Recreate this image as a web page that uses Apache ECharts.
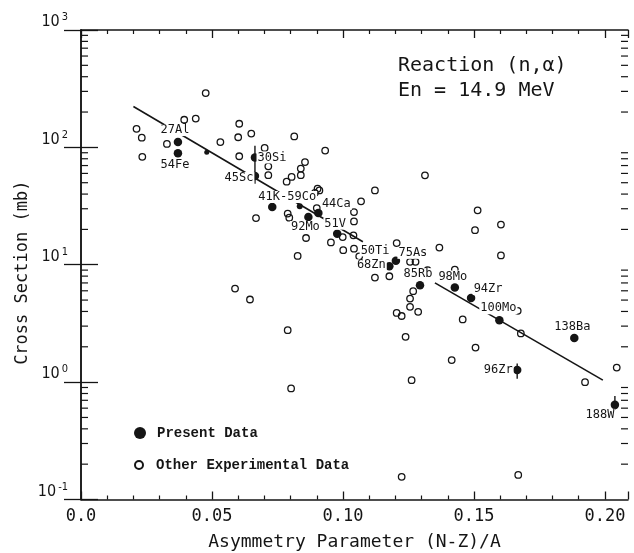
<!DOCTYPE html>
<html>
<head>
    <meta charset="utf-8">
    <script src="https://cdn.jsdelivr.net/npm/echarts@6/dist/echarts.min.js"></script>
</head>
<body style="margin:0;background:#fff">
    <div id="main" style="width: 634px;height:553px;"></div>
    <script type="text/javascript">
        // present data (filled circles)
        var presentNames = ['27Al', '54Fe', '', '30Si', '45Sc', '41K-59Co', '59Co', '92Mo', '44Ca', '51V', '50Ti',
            '68Zn', '75As', '85Rb', '98Mo', '94Zr', '100Mo', '138Ba', '96Zr', '188W'];
        var presentX = [0.037, 0.037, 0.048, 0.0664, 0.0664, 0.073, 0.0835, 0.0868, 0.0906, 0.0978, 0.1073,
            0.1177, 0.1202, 0.1294, 0.1427, 0.1489, 0.1597, 0.1883, 0.1665, 0.2038];
        var presentY = [111, 89, 91, 82, 57, 31, 31.5, 25.5, 27.6, 18.4, 15.8,
            9.7, 10.8, 6.7, 6.4, 5.2, 3.37, 2.38, 1.27, 0.64];

        // other experimental data (open circles)
        var otherX = [0.0476, 0.0212, 0.0232, 0.0234, 0.0394, 0.0438, 0.0328, 0.0532, 0.0604, 0.0600,
            0.0650, 0.0604, 0.0814, 0.0932, 0.0701, 0.0715, 0.0715, 0.0855, 0.0839, 0.0839,
            0.0785, 0.0804, 0.0893, 0.0910, 0.0903, 0.0668, 0.0789, 0.0795, 0.0859, 0.0827,
            0.0588, 0.0645, 0.0789, 0.0900, 0.0954, 0.0999, 0.1001, 0.1042, 0.1042, 0.1042,
            0.1062, 0.1040, 0.1122, 0.1069, 0.1205, 0.1368, 0.1256, 0.1277, 0.1122, 0.1177,
            0.1323, 0.1427, 0.1514, 0.1504, 0.1603, 0.1603, 0.1268, 0.1256, 0.1256, 0.1205,
            0.1224, 0.1287, 0.1457, 0.1667, 0.1239, 0.1506, 0.1415, 0.1262, 0.1679, 0.1924,
            0.2045, 0.1224, 0.1669, 0.0802, 0.1313];
        var otherY = [290, 144, 121, 83, 172, 176, 107, 111, 159, 122,
            131, 84, 124, 94, 99, 69, 58, 75, 66, 58,
            51, 56, 41, 43, 44.5, 25, 27.3, 25.2, 16.9, 11.9,
            6.27, 5.06, 2.77, 30.4, 15.5, 17.2, 13.3, 28.1, 23.4, 13.7,
            11.8, 17.8, 43, 34.7, 15.3, 14.0, 10.6, 10.6, 7.78, 7.98,
            9.0, 9.1, 29.1, 19.7, 22.0, 12.0, 5.95, 5.15, 4.38, 3.89,
            3.66, 3.97, 3.42, 4.05, 2.43, 1.97, 1.54, 1.04, 2.6, 1.0,
            1.33, 0.156, 0.162, 0.884, 57.8];

        // error bars
        var errX = [0.0664, 0.0664, 0.1665, 0.2038];
        var errLo = [57, 49, 1.07, 0.58];
        var errHi = [103, 57, 1.44, 0.76];

        // fitted lines
        var fitLine1 = [[0.02, 223], [0.1076, 15.7]];
        var fitLine2 = [[0.1351, 7.0], [0.1992, 1.04]];

        // axis ticks
        var xMin = 0, xMax = 0.2088;
        var yMinorTicks = [0.2, 0.3, 0.4, 0.5, 0.6, 0.7, 0.8, 0.9,
            2, 3, 4, 5, 6, 7, 8, 9,
            20, 30, 40, 50, 60, 70, 80, 90,
            200, 300, 400, 500, 600, 700, 800, 900];
        var yTickLabels = {'-1': '-1', '0': '0', '1': '1', '2': '2', '3': '3'};

        // label offsets from the point centre (px)
        var labelOffset = {
            '27Al': [-3, -12], '54Fe': [-3, 12], '30Si': [17, 0], '45Sc': [-16, 2],
            '41K-59Co': [15, -10], '92Mo': [-3, 10], '44Ca': [18, -9], '51V': [-2, -10],
            '50Ti': [13, 9], '68Zn': [-18, -1], '75As': [17, -8], '85Rb': [-2, -11],
            '98Mo': [-2, -11], '94Zr': [17, -9], '100Mo': [-1, -12], '138Ba': [-2, -11],
            '96Zr': [-19, 0], '188W': [-15, 10]
        };

        var ink = '#151515';
        var mono = 'DejaVu Sans Mono';
        var narrow = '"Liberation Sans Narrow", "DejaVu Sans Condensed", "DejaVu Sans Mono"';

        var presentData = presentX.map(function (x, i) {
            var name = presentNames[i];
            var item = {value: [x, presentY[i]], name: name};
            if (name === '') item.symbolSize = 5;
            if (name === '59Co') item.symbolSize = 6;
            if (name === '50Ti') item.symbolSize = 0;
            if (labelOffset[name]) {
                item.label = {show: true, offset: labelOffset[name]};
            }
            return item;
        });
        var otherData = otherX.map(function (x, i) { return [x, otherY[i]]; });
        var errData = errX.map(function (x, i) { return [x, errLo[i], errHi[i]]; });
        var minorData = yMinorTicks.map(function (v) { return [xMin, v]; });

        function xLabel(v) {
            if (v === 0) return '0.0';
            var k = v / 0.05;
            return Math.abs(k - Math.round(k)) < 1e-6 ? v.toFixed(2) : '';
        }

        var xBase = {
            type: 'value', min: xMin, max: xMax, interval: 0.05,
            axisLine: {lineStyle: {color: ink, width: 1.5}},
            axisTick: {inside: true, length: 8, lineStyle: {color: ink, width: 1.3}},
            minorTick: {show: true, splitNumber: 5, length: 4, lineStyle: {color: ink, width: 1.2}},
            splitLine: {show: false}
        };
        var yBase = {
            type: 'log', logBase: 10, min: 0.1, max: 1000,
            axisLine: {lineStyle: {color: ink, width: 1.5}},
            axisTick: {inside: true, length: 17, lineStyle: {color: ink, width: 1.3}},
            minorTick: {show: false},
            splitLine: {show: false}
        };

        var option = {
            animation: false,
            backgroundColor: '#fff',
            grid: {left: 81, top: 30, width: 547, height: 469.5, outerBoundsMode: 'none', containLabel: false},
            title: {
                text: 'Reaction (n,α)\nEn = 14.9 MeV',
                left: 398, top: 53, padding: 0,
                textStyle: {fontFamily: mono, fontSize: 20, fontWeight: 'normal', color: ink, lineHeight: 25}
            },
            legend: [
                {
                    data: [{name: 'Present Data', icon: 'circle'}],
                    left: 134, top: 426, padding: 0,
                    itemWidth: 24, itemHeight: 12,
                    textStyle: {fontFamily: 'Liberation Mono', fontWeight: 'bold', fontSize: 14, color: ink}
                },
                {
                    data: [{name: 'Other Experimental Data', icon: 'circle'}],
                    left: 134, top: 458, padding: 0,
                    itemWidth: 24, itemHeight: 8,
                    textStyle: {fontFamily: 'Liberation Mono', fontWeight: 'bold', fontSize: 14, color: ink}
                }
            ],
            xAxis: [
                Object.assign({}, xBase, {
                    position: 'bottom',
                    name: 'Asymmetry Parameter (N-Z)/A',
                    nameLocation: 'middle', nameGap: 34, nameMoveOverlap: false,
                    nameTextStyle: {fontFamily: mono, fontSize: 18, color: ink},
                    axisLabel: {formatter: xLabel, margin: 9, fontFamily: mono, fontSize: 17, color: ink}
                }),
                Object.assign({}, xBase, {position: 'top', axisLabel: {show: false}})
            ],
            yAxis: [
                Object.assign({}, yBase, {
                    position: 'left',
                    name: 'Cross Section (mb)',
                    nameLocation: 'middle', nameGap: 50, nameMoveOverlap: false,
                    nameTextStyle: {fontFamily: mono, fontSize: 17, color: ink, padding: [0, 16, 0, 0]},
                    axisLabel: {
                        margin: 13,
                        verticalAlign: 'bottom',
                        formatter: function (v) {
                            var e = Math.round(Math.log10(v));
                            return '{b|10}{s|' + yTickLabels[String(e)] + '}';
                        },
                        rich: {
                            b: {fontFamily: narrow, fontSize: 16, color: ink, lineHeight: 16},
                            s: {fontFamily: narrow, fontSize: 11, color: ink, lineHeight: 11, padding: [0, 0, 9, 2]}
                        }
                    }
                }),
                Object.assign({}, yBase, {position: 'right', axisLabel: {show: false}})
            ],
            series: [
                {
                    name: 'fit1', type: 'line', data: fitLine1, symbol: 'none', z: 1,
                    lineStyle: {color: ink, width: 1.6}
                },
                {
                    name: 'fit2', type: 'line', data: fitLine2, symbol: 'none', z: 1,
                    lineStyle: {color: ink, width: 1.6}
                },
                {
                    // minor log ticks on left and right frame
                    name: 'yMinor', type: 'custom', data: minorData, z: 2, clip: false, silent: true,
                    encode: {x: 0, y: 1},
                    renderItem: function (params, api) {
                        var l = api.coord([xMin, api.value(1)]);
                        var r = api.coord([xMax, api.value(1)]);
                        var st = {stroke: ink, lineWidth: 1.2};
                        return {
                            type: 'group',
                            children: [
                                {type: 'line', shape: {x1: l[0], y1: l[1], x2: l[0] + 7, y2: l[1]}, style: st},
                                {type: 'line', shape: {x1: r[0], y1: r[1], x2: r[0] - 7, y2: r[1]}, style: st}
                            ]
                        };
                    }
                },
                {
                    name: 'err', type: 'custom', data: errData, z: 2,
                    encode: {x: 0, y: [1, 2]},
                    renderItem: function (params, api) {
                        var lo = api.coord([api.value(0), api.value(1)]);
                        var hi = api.coord([api.value(0), api.value(2)]);
                        return {
                            type: 'line',
                            shape: {x1: lo[0], y1: lo[1], x2: hi[0], y2: hi[1]},
                            style: {stroke: ink, lineWidth: 1.4}
                        };
                    }
                },
                {
                    name: 'Other Experimental Data', type: 'scatter', data: otherData, z: 3,
                    symbol: 'circle', symbolSize: 6.5,
                    itemStyle: {color: 'rgba(255,255,255,0)', borderColor: ink, borderWidth: 1.3, opacity: 1}
                },
                {
                    name: 'Present Data', type: 'scatter', data: presentData, z: 4,
                    symbol: 'circle', symbolSize: 8.5,
                    itemStyle: {color: ink, opacity: 1},
                    label: {
                        show: false, position: 'inside', formatter: '{b}',
                        fontFamily: mono, fontSize: 12, color: ink,
                        backgroundColor: '#fff', padding: [0, 1]
                    }
                }
            ]
        };

        var myChart = echarts.init(document.getElementById('main'));
        myChart.setOption(option);
    </script>
</body>
</html>
